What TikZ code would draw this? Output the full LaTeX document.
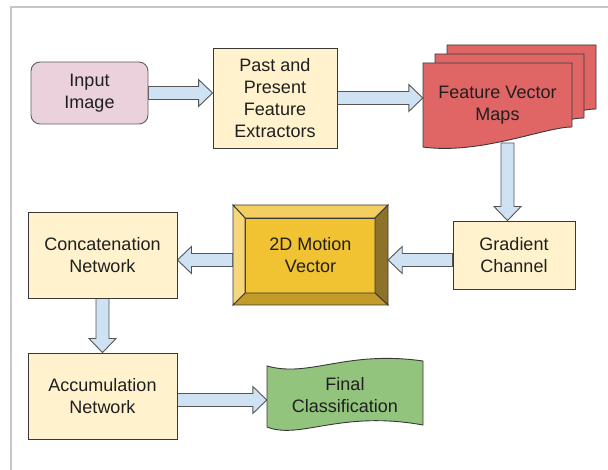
\documentclass[tikz,border=0pt]{standalone}
\usepackage{fontspec}
\setmainfont{Liberation Sans}
\usetikzlibrary{calc}

\pgfdeclarelayer{back}
\pgfsetlayers{back,main}

\definecolor{linec}{HTML}{383838}
\definecolor{inputline}{HTML}{5F5F5F}
\definecolor{inputpink}{HTML}{EAD1DC}
\definecolor{boxyellow}{HTML}{FFF2CC}
\definecolor{arrline}{HTML}{555555}
\definecolor{arrfill}{HTML}{CFE2F3}
\definecolor{fvmred}{HTML}{E06666}
\definecolor{gold}{HTML}{F1C232}
\definecolor{bevtop}{HTML}{F4CE5E}
\definecolor{bevleft}{HTML}{F6D77C}
\definecolor{bevright}{HTML}{8E7229}
\definecolor{bevbottom}{HTML}{C29B29}
\definecolor{fingreen}{HTML}{93C47D}
\definecolor{framegray}{HTML}{C6C6C6}

% Block arrow (outlined shaft with a wide head) from point #1 to point #2
\newcommand\blockarrow[2]{%
  \draw[barrow] let \p1=(#1), \p2=(#2),
      \n1={atan2(\y2-\y1,\x2-\x1)}, \n2={veclen(\x2-\x1,\y2-\y1)} in
    ($(\p1)+(\n1+90:6.5pt)$)
    -- ($(\p1)+(\n1:\n2-14pt)+(\n1+90:6.5pt)$)
    -- ($(\p1)+(\n1:\n2-14pt)+(\n1+90:13.5pt)$)
    -- (\p2)
    -- ($(\p1)+(\n1:\n2-14pt)+(\n1-90:13.5pt)$)
    -- ($(\p1)+(\n1:\n2-14pt)+(\n1-90:6.5pt)$)
    -- ($(\p1)+(\n1-90:6.5pt)$) -- cycle;
}

\begin{document}
\begin{tikzpicture}[x=1pt,y=-1pt,
  lbl/.style={align=center, inner sep=0pt, text=black!88,
    font=\fontsize{18}{22}\selectfont},
  procbox/.style={lbl, draw=linec, line width=0.9pt, fill=boxyellow},
  barrow/.style={draw=arrline, fill=arrfill, line width=0.9pt, line join=miter},
  outl/.style={draw=linec, line width=0.9pt, line join=miter}]

\useasboundingbox (0,0) rectangle (608,470);
\draw[framegray, line width=1.5pt] (11,470) -- (11,7) -- (608,7);

% nodes
\node[lbl, draw=inputline, line width=0.9pt, fill=inputpink, rounded corners=9pt,
      minimum width=117pt, minimum height=62pt] (in) at (89.5,93) {Input\\Image};
\node[procbox, minimum width=124pt, minimum height=100pt] (past) at (275,98)
      {Past and\\Present\\Feature\\Extractors};
\node[lbl, minimum width=149pt, minimum height=84pt] (fvm) at (497.5,105)
      {Feature Vector\\Maps};
\node[procbox, minimum width=122pt, minimum height=68pt] (grad) at (514,255)
      {Gradient\\Channel};
\node[lbl, minimum width=155pt, minimum height=100pt] (mv) at (310.5,255)
      {2D Motion\\Vector};
\node[procbox, minimum width=149pt, minimum height=86pt] (cat) at (102.5,255)
      {Concatenation\\Network};
\node[procbox, minimum width=149pt, minimum height=86pt] (acc) at (102.5,396)
      {Accumulation\\Network};
\node[lbl, minimum width=156pt, minimum height=64pt] (fin) at (345,395)
      {Final\\Classification};

\coordinate (fvmout) at ($(fvm.center)+(10,38)$);
\coordinate (gradout) at ($(grad.west)+(0,5)$);
\coordinate (mvout) at ($(mv.west)+(0,5)$);
\coordinate (accout) at ($(acc.east)+(0,4)$);

\begin{pgfonlayer}{back}
  % connectors
  \blockarrow{in.east}{past.west |- in.east}
  \blockarrow{past.east}{fvm.west |- past.east}
  \blockarrow{fvmout}{fvmout |- grad.north}
  \blockarrow{gradout}{mv.east |- gradout}
  \blockarrow{mvout}{cat.east |- mvout}
  \blockarrow{cat.south}{acc.north}
  \blockarrow{accout}{fin.west |- accout}

  % stacked document shape
  \begin{scope}[shift={(fvm.center)}]
    \foreach \d in {2,1,0}
      \draw[outl, fill=fvmred, shift={(12*\d,-9*\d)}]
        (-74.5,-42) -- (74.5,-42) -- (74.5,22)
        .. controls (47.5,22) and (-17.5,50) .. (-74.5,42) -- cycle;
  \end{scope}

  % bevelled block
  \begin{scope}[shift={(mv.center)}]
    \draw[outl, fill=gold] (-65.5,-37) rectangle (64.5,38);
    \draw[outl, fill=bevtop] (-77.5,-50) -- (77.5,-50) -- (64.5,-37) -- (-65.5,-37) -- cycle;
    \draw[outl, fill=bevright] (77.5,-50) -- (77.5,50) -- (64.5,38) -- (64.5,-37) -- cycle;
    \draw[outl, fill=bevbottom] (77.5,50) -- (-77.5,50) -- (-65.5,38) -- (64.5,38) -- cycle;
    \draw[outl, fill=bevleft] (-77.5,50) -- (-77.5,-50) -- (-65.5,-37) -- (-65.5,38) -- cycle;
  \end{scope}

  % wavy tape shape
  \begin{scope}[shift={(fin.center)}]
    \draw[outl, fill=fingreen]
      (-78,-29) .. controls (-35,-17) and (0,-45) .. (78,-34)
      -- (78,30) .. controls (-5,15) and (-45,45) .. (-78,32) -- cycle;
  \end{scope}
\end{pgfonlayer}
\end{tikzpicture}
\end{document}
